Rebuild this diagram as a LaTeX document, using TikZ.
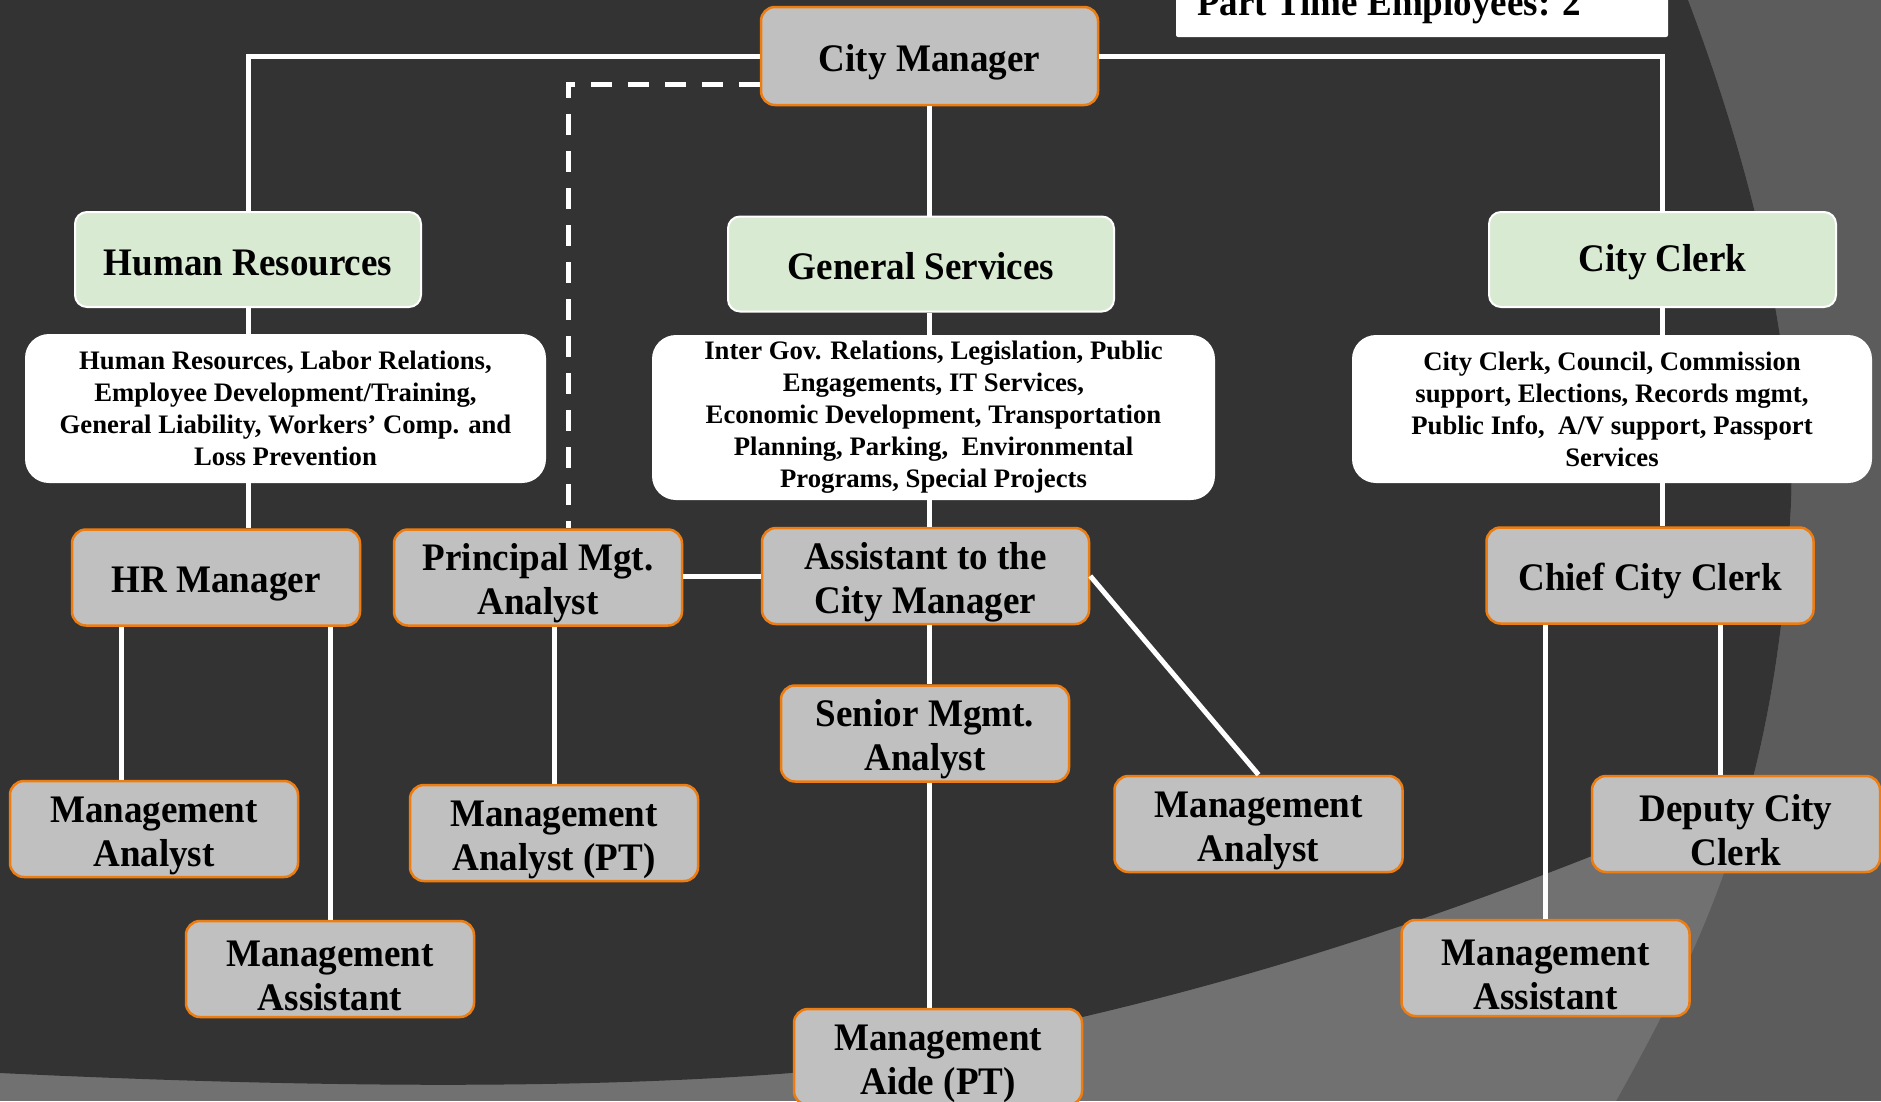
\documentclass[tikz,border=0pt]{standalone}
\usepackage{fontspec}
\setmainfont{Liberation Serif}
\newfontfamily\rolefont{Liberation Serif}[FakeStretch=0.95]
\usepackage{tikz}
\definecolor{bgdark}{HTML}{333333}
\definecolor{bgmid}{HTML}{5C5C5C}
\definecolor{bglight}{HTML}{717171}
\definecolor{rolegray}{HTML}{C0C0C0}
\definecolor{roleedge}{HTML}{EE7D11}
\definecolor{deptgreen}{HTML}{D9EAD3}

\begin{document}
\begin{tikzpicture}[x=1pt,y=-1pt,
    role/.style={draw=roleedge, line width=2.5pt, fill=rolegray,
      rounded corners=14pt, minimum width=288pt, minimum height=96pt,
      inner sep=0pt, align=center,
      font=\rolefont\fontsize{39}{44}\selectfont\bfseries},
    dept/.style={draw=white, line width=2pt, fill=deptgreen,
      rounded corners=12pt, minimum height=95pt, inner sep=0pt,
      font=\rolefont\fontsize{39}{44}\selectfont\bfseries,
      execute at begin node={\rule{0pt}{32pt}}},
    duties/.style={fill=white, rounded corners=24pt, inner sep=0pt,
      align=center, font=\fontsize{26.7}{32}\selectfont\bfseries},
    orgline/.style={white, line width=5pt}]
    \useasboundingbox (0,0) rectangle (1881,1101);
    \clip (0,0) rectangle (1881,1101);

    % Slide background: dark sweep over two lighter grey bands.
    \fill[bgmid] (0,0) rectangle (1881,1101);
    \begin{scope}
      \clip (0,0) -- (1688,0) .. controls (1760,190) and (1800,380) .. (1790,520)
        .. controls (1775,800) and (1700,950) .. (1616,1101) -- (0,1101) -- cycle;
      \fill[bglight] (0,0) rectangle (1881,1101);
      \fill[bgdark] (0,0) -- (1881,0) -- (1881,733)
        .. controls (1500,905) and (1200,1010) .. (791,1073)
        .. controls (550,1092) and (250,1085) .. (0,1073) -- cycle;
    \end{scope}

    % Head count box, cut by the top edge.
    \fill[white, rounded corners=2pt] (1176,-30) rectangle (1668,37);
    \node[anchor=base west, inner sep=0pt,
      font=\rolefont\fontsize{39}{44}\selectfont\bfseries] (ptcount)
      at (1197,15) {Part Time Employees: 2};

    % Top of the chart and the three divisions.
    \node[role, minimum width=337pt, minimum height=98pt] (cm) at (929.5,56)
      {\rule{0pt}{39pt}City Manager};
    \node[dept, minimum width=346pt] (hr) at (248,259.5) {Human Resources};
    \node[dept, minimum width=386pt] (gs) at (921,264) {General Services};
    \node[dept, minimum width=347pt] (cc) at (1662.5,259.5) {City Clerk};

    \node[duties, minimum width=521pt, minimum height=149pt] (hrduty)
      at (285.5,408.5) {Human Resources, Labor Relations,\\
      Employee Development/Training,\\
      General Liability, Workers’ Comp. and\\
      Loss Prevention};
    \node[duties, minimum width=563pt, minimum height=165pt] (gsduty)
      at (933.5,417.5) {Inter Gov. Relations, Legislation, Public\\
      Engagements, IT Services,\\
      Economic Development, Transportation\\
      Planning, Parking, \ Environmental\\
      Programs, Special Projects};
    \node[duties, minimum width=520pt, minimum height=148pt] (ccduty)
      at (1612,409) {City Clerk, Council, Commission\\
      support, Elections, Records mgmt,\\
      Public Info, \ A/V support, Passport\\
      Services};

    % Staff positions.
    \node[role, minimum width=327pt] (acm) at (925.5,576)
      {\rule{0pt}{39pt}Assistant to the\\City Manager};
    \node[role, minimum width=327pt] (chief) at (1650,575.5)
      {\rule{0pt}{39pt}Chief City Clerk};
    \foreach \nodename/\xpos/\ypos/\roletext in {
      hrmgr/216/577.5/{HR Manager},
      pma/538/577.5/{Principal Mgt.\\Analyst},
      sma/925/733.5/{Senior Mgmt.\\Analyst},
      mal/154/829/{Management\\Analyst},
      mapt/554/833/{Management\\Analyst (PT)},
      mam/1258.5/824/{Management\\Analyst},
      deputy/1736/824/{Deputy City\\Clerk},
      masl/330/969/{Management\\Assistant},
      masr/1545.5/968/{Management\\Assistant},
      aide/938/1057/{Management\\Aide (PT)}} {
      \node[role] (\nodename) at (\xpos,\ypos) {\rule{0pt}{39pt}\roletext};
    }

    % Reporting lines from the City Manager.
    \draw[orgline] (cm.west) -| (hr.north);
    \draw[orgline] (cm.east) -| (cc.north);
    \draw[orgline, dash pattern=on 21pt off 16pt]
      ([yshift=-28pt]cm.west) -| ([xshift=30pt]pma.north);
    \draw[orgline] (cm.south) -- (cm.south |- gs.north);
    \draw[orgline] (cm.south |- gs.south) -- (cm.south |- gsduty.north);
    \draw[orgline] (cm.south |- gsduty.south) -- (cm.south |- acm.north);

    % Human Resources branch.
    \draw[orgline] (hr.south) -- (hr.south |- hrduty.north);
    \draw[orgline] (hr.south |- hrduty.south) -- (hr.south |- hrmgr.north);
    \draw[orgline] ([xshift=-33pt]mal.north |- hrmgr.south)
      -- ([xshift=-33pt]mal.north);
    \draw[orgline] (masl.north |- hrmgr.south) -- (masl.north);

    % General Services branch.
    \draw[orgline] (acm.west -| pma.east) -- (acm.west);
    \draw[orgline] (mapt.north |- pma.south) -- (mapt.north);
    \draw[orgline] (cm.south |- acm.south) -- (cm.south |- sma.north);
    \draw[orgline] (cm.south |- sma.south) -- (cm.south |- aide.north);
    \draw[orgline] (acm.east) -- (mam.north);

    % City Clerk branch.
    \draw[orgline] (cc.south) -- (cc.south |- ccduty.north);
    \draw[orgline] (cc.south |- ccduty.south) -- (cc.south |- chief.north);
    \draw[orgline] (masr.north |- chief.south) -- (masr.north);
    \draw[orgline] ([xshift=-16pt]deputy.north |- chief.south)
      -- ([xshift=-16pt]deputy.north);
  \end{tikzpicture}
\end{document}
